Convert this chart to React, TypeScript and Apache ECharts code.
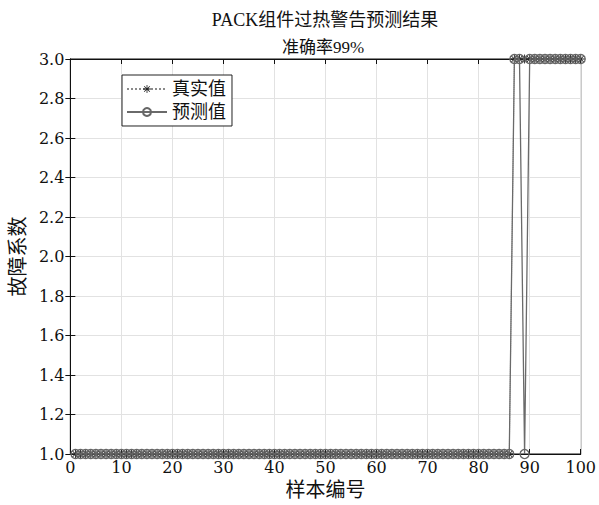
import React, { useEffect, useRef } from "react";
import * as echarts from "echarts";

const titleText = "PACK组件过热警告预测结果";
const subtitleText = "准确率99%";
const xName = "样本编号";
const yName = "故障系数";
const legendNames = ["真实值", "预测值"];

// True fault coefficient for samples 1..100
const trueValues = [
  1, 1, 1, 1, 1, 1, 1, 1, 1, 1, 1, 1, 1, 1, 1, 1, 1, 1, 1, 1,
  1, 1, 1, 1, 1, 1, 1, 1, 1, 1, 1, 1, 1, 1, 1, 1, 1, 1, 1, 1,
  1, 1, 1, 1, 1, 1, 1, 1, 1, 1, 1, 1, 1, 1, 1, 1, 1, 1, 1, 1,
  1, 1, 1, 1, 1, 1, 1, 1, 1, 1, 1, 1, 1, 1, 1, 1, 1, 1, 1, 1,
  1, 1, 1, 1, 1, 1, 3, 3, 3, 3, 3, 3, 3, 3, 3, 3, 3, 3, 3, 3,
];
// Predicted fault coefficient for samples 1..100
const predValues = [
  1, 1, 1, 1, 1, 1, 1, 1, 1, 1, 1, 1, 1, 1, 1, 1, 1, 1, 1, 1,
  1, 1, 1, 1, 1, 1, 1, 1, 1, 1, 1, 1, 1, 1, 1, 1, 1, 1, 1, 1,
  1, 1, 1, 1, 1, 1, 1, 1, 1, 1, 1, 1, 1, 1, 1, 1, 1, 1, 1, 1,
  1, 1, 1, 1, 1, 1, 1, 1, 1, 1, 1, 1, 1, 1, 1, 1, 1, 1, 1, 1,
  1, 1, 1, 1, 1, 1, 3, 3, 1, 3, 3, 3, 3, 3, 3, 3, 3, 3, 3, 3,
];

const FONT = "'Liberation Serif', 'DejaVu Serif', 'Noto Sans CJK SC', serif";
const NUMFONT = "'DejaVu Serif', serif";
const STAR =
  "path://M9,0h2v20h-2z M0,9h20v2h-20z M2.2,3.6l1.4,-1.4l14.2,14.2l-1.4,1.4z M16.4,2.2l1.4,1.4l-14.2,14.2l-1.4,-1.4z";

export default function App() {
  const ref = useRef<HTMLDivElement>(null);
  useEffect(() => {
    if (!ref.current) return;
    const chart = echarts.init(ref.current, null, { renderer: "svg" });
    const trueData = trueValues.map((v, i) => [i + 1, v]);
    const predData = predValues.map((v, i) => [i + 1, v]);
    const labelStyle = { fontFamily: NUMFONT, fontSize: 16, color: "#111" };
    chart.setOption({
      animation: false,
      backgroundColor: "#fff",
      title: [
        {
          text: titleText,
          left: 320,
          textAlign: "center",
          top: 6,
          textStyle: { fontFamily: FONT, fontSize: 18, fontWeight: "normal", color: "#111" },
        },
        {
          text: subtitleText,
          left: 318,
          textAlign: "center",
          top: 34,
          textStyle: { fontFamily: FONT, fontSize: 17, fontWeight: "normal", color: "#111" },
        },
      ],
      legend: {
        orient: "vertical",
        left: 122,
        top: 75,
        data: legendNames,
        itemWidth: 40,
        itemHeight: 10,
        itemGap: 5,
        padding: [5, 6, 5, 4],
        backgroundColor: "#fff",
        borderColor: "#222",
        borderWidth: 1,
        borderRadius: 0,
        textStyle: { fontFamily: FONT, fontSize: 18, color: "#111" },
      },
      grid: {
        left: 67,
        right: 13,
        top: 59,
        bottom: 49,
        show: true,
        borderColor: "#111",
        borderWidth: 1,
        backgroundColor: "#fff",
      },
      xAxis: [
        {
          type: "value",
          min: 0,
          max: 100,
          interval: 10,
          name: xName,
          nameLocation: "middle",
          nameGap: 26,
          nameTextStyle: { fontFamily: FONT, fontSize: 20, color: "#111" },
          axisLine: { show: true, lineStyle: { color: "#111" } },
          axisTick: { show: true, inside: true, length: 5, lineStyle: { color: "#111" } },
          axisLabel: { ...labelStyle, margin: 5 },
          splitLine: { show: true, lineStyle: { color: "#e2e2e2", width: 1 } },
        },
        {
          type: "value",
          position: "top",
          min: 0,
          max: 100,
          interval: 10,
          axisLine: { show: true, lineStyle: { color: "#111" } },
          axisTick: { show: true, inside: true, length: 5, lineStyle: { color: "#111" } },
          axisLabel: { show: false },
          splitLine: { show: false },
        },
      ],
      yAxis: [
        {
          type: "value",
          min: 1,
          max: 3,
          interval: 0.2,
          name: yName,
          nameLocation: "middle",
          nameGap: 33,
          nameRotate: 90,
          nameTextStyle: { fontFamily: FONT, fontSize: 20, color: "#111" },
          axisLine: { show: true, lineStyle: { color: "#111" } },
          axisTick: { show: true, inside: true, length: 5, lineStyle: { color: "#111" } },
          axisLabel: { ...labelStyle, margin: 6, formatter: (v: number) => v.toFixed(1) },
          splitLine: { show: true, lineStyle: { color: "#e2e2e2", width: 1 } },
        },
        {
          type: "value",
          position: "right",
          min: 1,
          max: 3,
          interval: 0.2,
          axisLine: { show: true, lineStyle: { color: "#111" } },
          axisTick: { show: true, inside: true, length: 5, lineStyle: { color: "#111" } },
          axisLabel: { show: false },
          splitLine: { show: false },
        },
      ],
      series: [
        {
          name: legendNames[0],
          type: "line",
          data: trueData,
          symbol: STAR,
          symbolSize: 9,
          showSymbol: true,
          itemStyle: { color: "#222" },
          lineStyle: { color: "#8a8a8a", width: 1, type: "dotted" },
          z: 2,
        },
        {
          name: legendNames[1],
          type: "line",
          data: predData,
          symbol: "circle",
          symbolSize: 9,
          showSymbol: true,
          itemStyle: { color: "rgba(0,0,0,0)", borderColor: "#666", borderWidth: 1.3 },
          lineStyle: { color: "#6a6a6a", width: 1.3, type: "solid" },
          z: 3,
        },
      ],
    });
    return () => chart.dispose();
  }, []);
  return (
    <div
      ref={ref}
      style={{ position: "fixed", left: 0, top: 0, width: 599, height: 505 }}
    />
  );
}
